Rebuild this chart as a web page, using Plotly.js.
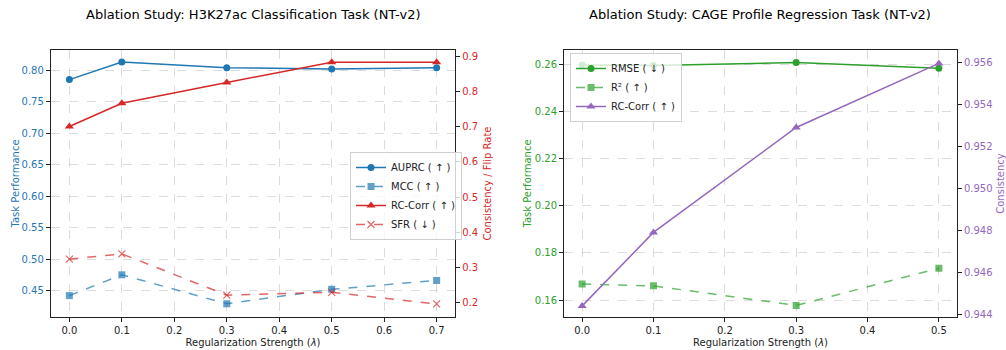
<!DOCTYPE html>
<html>
<head>
<meta charset="utf-8">
<script src="https://cdn.plot.ly/plotly-3.0.1.min.js"></script>
<style>html,body{margin:0;padding:0;background:#fff;}#chart{width:1006px;height:350px;}</style>
</head>
<body>
<div id="chart"></div>
<script>
// Left panel: H3K27ac classification
const lambdaLeft = [0.0, 0.1, 0.3, 0.5, 0.7];
const auprc = [0.785, 0.813, 0.804, 0.802, 0.804];
const mcc = [0.442, 0.475, 0.429, 0.452, 0.466];
const rcCorrLeft = [0.700, 0.766, 0.825, 0.882, 0.882];
const sfr = [0.324, 0.339, 0.222, 0.230, 0.197];

// Right panel: CAGE profile regression
const lambdaRight = [0.0, 0.1, 0.3, 0.5];
const rmse = [0.2596, 0.2594, 0.2607, 0.2583];
const r2 = [0.1668, 0.1660, 0.1577, 0.1735];
const rcCorrRight = [0.9444, 0.9479, 0.9529, 0.95595];

const titleLeft = 'Ablation Study: H3K27ac Classification Task (NT-v2)';
const titleRight = 'Ablation Study: CAGE Profile Regression Task (NT-v2)';
const xTitle = 'Regularization Strength (<i>λ</i>)';

const BLUE = '#1f77b4', BLUE_A = 'rgba(31,119,180,0.7)';
const RED = '#d62728', RED_A = 'rgba(214,39,40,0.7)';
const GREEN = '#2ca02c', GREEN_A = 'rgba(44,160,44,0.7)';
const PURPLE = '#9467bd';
const FONT = 'DejaVu Sans, sans-serif';

const traces = [
  {x: lambdaLeft, y: auprc, name: 'AUPRC ( ↑ )', mode: 'lines+markers', xaxis: 'x', yaxis: 'y',
   line: {color: BLUE, width: 1.5}, marker: {symbol: 'circle', size: 7, color: BLUE}, legend: 'legend'},
  {x: lambdaLeft, y: mcc, name: 'MCC ( ↑ )', mode: 'lines+markers', xaxis: 'x', yaxis: 'y',
   line: {color: BLUE_A, width: 1.5, dash: 'dash'}, marker: {symbol: 'square', size: 7, color: BLUE_A}, legend: 'legend'},
  {x: lambdaLeft, y: rcCorrLeft, name: 'RC-Corr ( ↑ )', mode: 'lines+markers', xaxis: 'x', yaxis: 'y2',
   line: {color: RED, width: 1.5}, marker: {symbol: 'triangle-up', size: 8, color: RED}, legend: 'legend'},
  {x: lambdaLeft, y: sfr, name: 'SFR ( ↓ )', mode: 'lines+markers', xaxis: 'x', yaxis: 'y2',
   line: {color: RED_A, width: 1.5, dash: 'dash'}, marker: {symbol: 'x-thin-open', size: 7, color: RED_A, line: {color: RED_A, width: 1.2}}, legend: 'legend'},

  {x: lambdaRight, y: rmse, name: 'RMSE ( ↓ )', mode: 'lines+markers', xaxis: 'x2', yaxis: 'y3',
   line: {color: GREEN, width: 1.5}, marker: {symbol: 'circle', size: 7, color: GREEN}, legend: 'legend2'},
  {x: lambdaRight, y: r2, name: 'R² ( ↑ )', mode: 'lines+markers', xaxis: 'x2', yaxis: 'y3',
   line: {color: GREEN_A, width: 1.5, dash: 'dash'}, marker: {symbol: 'square', size: 7, color: GREEN_A}, legend: 'legend2'},
  {x: lambdaRight, y: rcCorrRight, name: 'RC-Corr ( ↑ )', mode: 'lines+markers', xaxis: 'x2', yaxis: 'y4',
   line: {color: PURPLE, width: 1.5}, marker: {symbol: 'triangle-up', size: 8, color: PURPLE}, legend: 'legend2'}
];

const gridStyle = {showgrid: true, gridcolor: 'rgba(176,176,176,0.55)', griddash: 'dash', gridwidth: 0.8};
const frame = {showline: true, linecolor: '#222', linewidth: 1.2, ticks: 'outside', ticklen: 4, tickwidth: 1, tickcolor: '#222', zeroline: false};

const yDom = [1 - 317/350, 1 - 50/350];

const layout = {
  width: 1006, height: 350,
  margin: {l: 0, r: 0, t: 0, b: 0},
  paper_bgcolor: '#fff', plot_bgcolor: '#fff',
  font: {family: FONT, size: 10, color: '#222'},
  showlegend: true,
  xaxis: Object.assign({}, frame, gridStyle, {domain: [51/1006, 455/1006], range: [-0.035, 0.735], dtick: 0.1, tickformat: '.1f', mirror: true, anchor: 'y',
    title: {text: xTitle, font: {size: 10, color: '#222'}, standoff: 3}}),
  yaxis: Object.assign({}, frame, gridStyle, {domain: yDom, range: [0.408, 0.832], dtick: 0.05, tickformat: '.2f', anchor: 'x',
    tickfont: {color: BLUE}, title: {text: 'Task Performance', font: {size: 10, color: BLUE}, standoff: 0}}),
  yaxis2: Object.assign({}, frame, {domain: yDom, range: [0.160, 0.917], dtick: 0.1, tickformat: '.1f', overlaying: 'y', side: 'right', anchor: 'x', showgrid: false,
    tickfont: {color: RED}, title: {text: 'Consistency / Flip Rate', font: {size: 10, color: RED}, standoff: 6}}),
  xaxis2: Object.assign({}, frame, gridStyle, {domain: [564.3/1006, 956.7/1006], range: [-0.025, 0.525], dtick: 0.1, tickformat: '.1f', mirror: true, anchor: 'y3',
    title: {text: xTitle, font: {size: 10, color: '#222'}, standoff: 3}}),
  yaxis3: Object.assign({}, frame, gridStyle, {domain: yDom, range: [0.1528, 0.2660], dtick: 0.02, tickformat: '.2f', anchor: 'x2',
    tickfont: {color: GREEN}, title: {text: 'Task Performance', font: {size: 10, color: GREEN}, standoff: 1}}),
  yaxis4: Object.assign({}, frame, {domain: yDom, range: [0.94387, 0.95659], dtick: 0.002, tickformat: '.3f', overlaying: 'y3', side: 'right', anchor: 'x2', showgrid: false,
    tickfont: {color: PURPLE}, title: {text: 'Consistency', font: {size: 10, color: PURPLE}, standoff: 6}}),
  legend: {x: 350/1006, y: 1 - 152/350, xanchor: 'left', yanchor: 'top', bgcolor: 'rgba(255,255,255,0.8)', bordercolor: '#d0d0d0', borderwidth: 1,
    font: {size: 10, color: '#222'}, itemwidth: 30, tracegroupgap: 0},
  legend2: {x: 570/1006, y: 1 - 53/350, xanchor: 'left', yanchor: 'top', bgcolor: 'rgba(255,255,255,0.8)', bordercolor: '#d0d0d0', borderwidth: 1,
    font: {size: 10, color: '#222'}, itemwidth: 30, tracegroupgap: 0},
  annotations: [
    {text: titleLeft, x: 253/1006, y: 1 - 14/350, xref: 'paper', yref: 'paper', xanchor: 'center', yanchor: 'middle', showarrow: false, font: {size: 13, color: '#000'}},
    {text: titleRight, x: 760/1006, y: 1 - 14/350, xref: 'paper', yref: 'paper', xanchor: 'center', yanchor: 'middle', showarrow: false, font: {size: 13, color: '#000'}}
  ]
};

Plotly.newPlot('chart', traces, layout, {displayModeBar: false, staticPlot: true});
</script>
</body>
</html>
